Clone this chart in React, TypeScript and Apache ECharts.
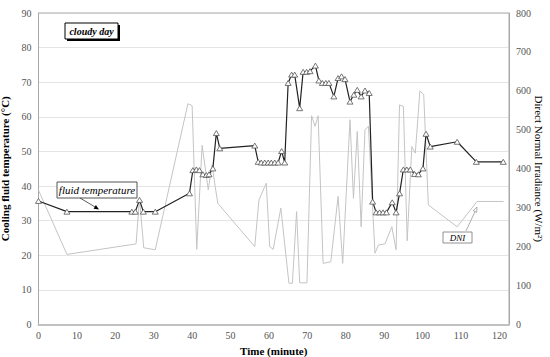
import React, { useEffect, useRef } from "react";
import * as echarts from "echarts";

const xTicks = [0, 10, 20, 30, 40, 50, 60, 70, 80, 90, 100, 110, 120];

const tempTime = [0, 7.4, 24.3, 25.2, 26.3, 27.3, 30.4, 39.3, 40.2, 41.1, 41.9, 42.8, 43.7, 44.4, 45.4, 46.3, 47.2, 56.3, 57.2, 58.0, 58.9, 59.8, 60.6, 61.5, 62.4, 63.3, 64.1, 65.0, 65.9, 66.7, 68.0, 68.9, 69.8, 70.7, 72.1, 73.0, 73.9, 74.8, 75.6, 76.9, 78.0, 78.9, 79.8, 81.1, 82.1, 83.0, 84.0, 85.0, 86.1, 87.0, 87.9, 88.8, 89.7, 90.6, 92.1, 93.1, 94.0, 95.0, 95.9, 96.8, 97.9, 98.9, 100.1, 100.9, 102.0, 109.0, 114.0, 121.0];
const tempValue = [35.7, 32.6, 32.6, 32.6, 36.0, 32.6, 32.6, 37.9, 44.6, 44.8, 44.6, 43.4, 43.2, 43.4, 45.1, 55.3, 50.9, 51.7, 47.0, 46.8, 46.8, 46.8, 46.8, 46.8, 46.8, 50.1, 46.8, 69.8, 72.2, 72.2, 62.5, 73.0, 73.0, 73.2, 74.8, 70.5, 69.8, 69.8, 69.8, 65.9, 71.2, 71.7, 70.9, 64.4, 66.4, 67.8, 65.9, 67.6, 66.9, 35.5, 32.4, 32.4, 32.4, 32.4, 35.3, 32.4, 37.9, 44.8, 44.8, 44.8, 43.5, 43.4, 45.1, 55.1, 51.4, 52.8, 47.0, 47.0];

const dniTime = [0, 7.4, 25.4, 26.3, 27.4, 30.4, 38.9, 40.0, 41.2, 42.6, 44.2, 45.2, 46.0, 46.7, 56.3, 57.4, 59.3, 60.2, 61.1, 63.1, 65.2, 66.1, 67.2, 68.0, 69.9, 71.1, 72.0, 72.8, 74.1, 76.1, 78.0, 79.2, 81.1, 82.0, 83.0, 84.0, 85.0, 85.9, 87.6, 88.5, 90.2, 92.0, 93.1, 94.0, 95.0, 96.0, 97.2, 98.1, 99.3, 100.3, 101.5, 109.0, 114.2, 121.1];
const dniValue = [345, 180, 207, 322, 197, 192, 567, 562, 193, 460, 346, 410, 354, 311, 200, 320, 363, 200, 193, 299, 106, 106, 290, 107, 107, 536, 509, 536, 157, 161, 329, 157, 526, 324, 496, 251, 500, 509, 183, 204, 207, 251, 192, 564, 560, 215, 457, 440, 600, 590, 307, 251, 316, 316];

const FONT = "Liberation Serif";

export default function App() {
  const ref = useRef<HTMLDivElement>(null);
  useEffect(() => {
    if (!ref.current) return;
    const chart = echarts.init(ref.current, null, { renderer: "svg" });
    const tempData = tempTime.map((t, i) => [t, tempValue[i]]);
    const dniData = dniTime.map((t, i) => [t, dniValue[i]]);
    const txt = (text: string, x: number, y: number, size: number, style: string, weight: string) => ({
      type: "text", x, y, z: 12,
      style: { text, fontFamily: FONT, fontSize: size, fontStyle: style, fontWeight: weight, fill: "#000", align: "center", verticalAlign: "middle" },
    });
    chart.setOption({
      animation: false,
      backgroundColor: "#fff",
      textStyle: { fontFamily: FONT },
      grid: { left: 38.5, right: 41, top: 13, bottom: 32.5, show: true, borderColor: "#a8a8a8", borderWidth: 1, containLabel: false, outerBoundsMode: "none" },
      xAxis: {
        type: "value",
        min: 0,
        max: 122.5,
        interval: 10,
        name: "Time (minute)",
        nameLocation: "middle",
        nameGap: 18.5,
        nameTextStyle: { fontFamily: FONT, fontWeight: "bold", fontSize: 11, color: "#000" },
        axisLine: { show: true, onZero: false, lineStyle: { color: "#c0c0c0", width: 2 } },
        axisTick: { show: false },
        splitLine: { show: false },
        axisLabel: {
          fontFamily: FONT,
          fontSize: 10,
          color: "#555",
          margin: 6,
          formatter: (v: number) => (xTicks.includes(Math.round(v * 1000) / 1000) ? String(v) : ""),
        },
      },
      yAxis: [
        {
          type: "value",
          min: 0,
          max: 90,
          interval: 10,
          name: "Cooling fluid temperature (°C)",
          nameLocation: "middle",
          nameGap: 23,
          nameRotate: 90,
          nameTextStyle: { fontFamily: FONT, fontWeight: "bold", fontSize: 11, color: "#000" },
          axisLine: { show: true, lineStyle: { color: "#a8a8a8", width: 1 } },
          axisTick: { show: false },
          splitLine: { show: true, lineStyle: { color: "#c8c8c8", type: [1, 1], width: 1 } },
          axisLabel: { fontFamily: FONT, fontSize: 10, color: "#555", margin: 7 },
        },
        {
          type: "value",
          min: 0,
          max: 800,
          interval: 100,
          position: "right",
          axisLine: { show: true, lineStyle: { color: "#a8a8a8", width: 1 } },
          axisTick: { show: false },
          splitLine: { show: false },
          axisLabel: { fontFamily: FONT, fontSize: 10, color: "#555", margin: 7 },
        },
      ],
      series: [
        {
          name: "DNI",
          type: "line",
          yAxisIndex: 1,
          data: dniData,
          showSymbol: false,
          symbol: "none",
          lineStyle: { color: "#c4c4c4", width: 1 },
          z: 1,
        },
        {
          name: "fluid temperature",
          type: "line",
          yAxisIndex: 0,
          data: tempData,
          symbol: "triangle",
          symbolSize: [6, 5],
          showAllSymbol: true,
          lineStyle: { color: "#222", width: 1.2 },
          itemStyle: { color: "#fff", borderColor: "#555", borderWidth: 0.8 },
          z: 3,
        },
      ],
      graphic: [
        {
          type: "text", x: 539, y: 168.75, rotation: -Math.PI / 2, z: 12,
          style: { text: "Direct Normal Irradiance (W/m²)", fontFamily: FONT, fontSize: 11, fill: "#000", align: "center", verticalAlign: "middle" },
        },
        { type: "rect", shape: { x: 67, y: 25, width: 53, height: 16 }, style: { fill: "#000" }, z: 10 },
        { type: "rect", shape: { x: 65, y: 23, width: 53, height: 16 }, style: { fill: "#fff", stroke: "#000", lineWidth: 1 }, z: 11 },
        txt("cloudy day", 91.5, 31, 10, "italic", "bold"),
        { type: "rect", shape: { x: 57, y: 182, width: 80, height: 16 }, style: { fill: "#fff", stroke: "#555", lineWidth: 1 }, z: 10 },
        txt("fluid temperature", 97, 190, 11, "italic", "normal"),
        { type: "line", shape: { x1: 80, y1: 198, x2: 96, y2: 207.5 }, style: { stroke: "#333", lineWidth: 0.8 }, z: 10 },
        { type: "polygon", shape: { points: [[99, 209.5], [93.6, 208.8], [95.9, 205.0]] }, style: { fill: "#000" }, z: 10 },
        { type: "rect", shape: { x: 443, y: 232, width: 29, height: 11 }, style: { fill: "#fff", stroke: "#777", lineWidth: 0.8 }, z: 10 },
        txt("DNI", 457.5, 237.5, 9, "italic", "normal"),
        { type: "line", shape: { x1: 466, y1: 231, x2: 475.5, y2: 210.5 }, style: { stroke: "#999", lineWidth: 0.8 }, z: 10 },
        { type: "polygon", shape: { points: [[477, 207], [476.7, 212.3], [473.1, 210.7]] }, style: { fill: "#fff", stroke: "#999", lineWidth: 0.8 }, z: 10 },
      ],
    });
    return () => chart.dispose();
  }, []);
  return <div ref={ref} style={{ position: "fixed", left: 0, top: 0, width: 550, height: 357 }} />;
}
